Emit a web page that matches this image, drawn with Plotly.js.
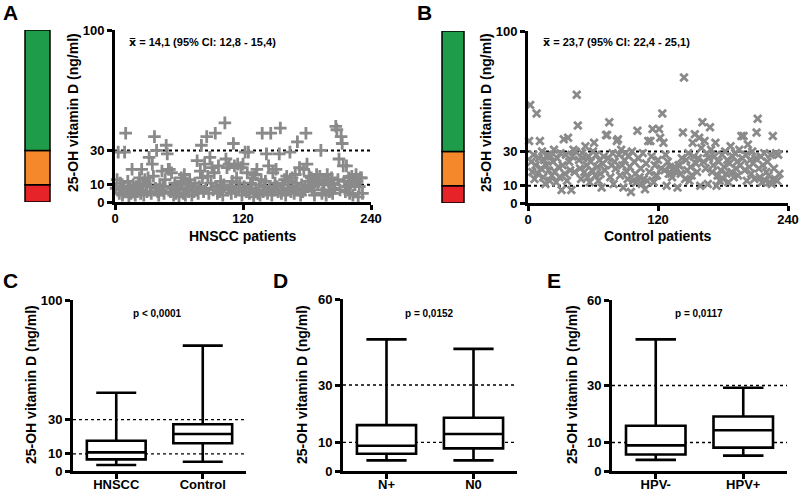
<!DOCTYPE html>
<html><head><meta charset="utf-8">
<script src="https://cdn.plot.ly/plotly-3.0.1.min.js"></script>
<style>html,body{margin:0;padding:0;background:#fff}</style>
</head><body><div id="chart" style="width:800px;height:494px"></div>
<script>
// ---- Data ----
const hnsccValues = [
 8,13,29,5,11,7,4,9,29,40,
 6,12,3,8,5,19,10,7,4,9,
 6,11,14,5,19,9,4,13,10,6,
 14,26,9,5,22,15,38,8,30,6,
 4,10,7,18,9,5,13,33,28,19,
 19,6,17,8,4,11,5,9,7,3,
 8,14,12,5,16,4,11,10,6,13,
 9,4,8,6,11,7,24,5,9,18,
 33,14,6,22,8,38,15,5,26,11,
 20,7,17,40,9,5,21,6,12,8,
 4,10,46,25,20,7,22,9,5,12,
 34,21,6,14,22,8,11,20,4,22,
 9,29,6,17,29,5,11,8,14,3,
 16,7,19,5,10,4,13,40,6,9,
 12,28,5,21,8,40,4,17,7,11,
 19,9,6,28,43,5,10,7,13,4,
 15,8,12,29,6,14,9,5,16,11,
 35,7,20,4,10,6,19,8,40,22,
 12,15,9,14,7,11,4,13,16,10,
 12,15,30,5,11,7,13,4,16,12,
 6,10,14,5,11,8,44,42,13,25,
 7,38,34,21,12,6,21,9,14,5,
 11,15,4,13,10,16,12,3,9,14,
 14,5];
const controlValues = [
 36,57,24,18,28,14,22,52,17,26,
 36,20,30,15,25,11,22,28,19,13,
 27,16,24,31,18,12,26,21,15,29,
 7.5,22,37,17,28,13,38,24,19,7.5,
 27,31,18,30,63,45,25,20,14,29,
 26,18,33,22,15,27,12,24,19,30,
 35,16,28,21,13,25,17,9,23,27,
 19,39.5,39.5,26,47,15,22,29,11,24,
 20,36,37,28,16,31,22,9,25,29,
 18,14,27,21,6.4,30,13,24,17,12,
 42,26,15,20,11,29,14,8,23,13,
 36,18,36,27,43,12,22,16,16,25,
 43,38,20,52,35,19,28,10,24,17,
 21,17,15,20,19,18,20,9,22,22,
 17,26,41,73,14,25,19,29,13,21,
 16,35,27,40,23,18,26,38,10,32,
 47,24,36,20,29,11,26,44,31,18,
 22,27,35,10,16,24,13,19,28,14,
 21,30,17,25,12,23,33,18,27,15,
 29,20,24,16,31,22,39,26,39,19,
 28,13,34,21,25,17,30,23,14,26,
 41,49,20,15,27,12,22,29,13,18,
 24,16,12,28,11,39,20,14,29,13,
 28,17];

const catsC = ['HNSCC','Control'];
const lowC = [3.5, 5.4], q1C = [6.8, 16.2], medC = [10.9, 21.6], q3C = [17.7, 27.3], highC = [45.8, 73.3];
const catsD = ['N+','N0'];
const lowD = [3.7, 3.7], q1D = [6.0, 7.9], medD = [8.8, 12.9], q3D = [16.0, 18.6], highD = [45.9, 42.6];
const catsE = ['HPV-','HPV+'];
const lowE = [3.9, 5.4], q1E = [5.8, 8.2], medE = [9.0, 14.3], q3E = [15.9, 19.1], highE = [46.2, 29.2];

const thresholds = [10, 30];
const bandEdges = [0, 10, 30, 100];
const ticks100 = [0, 10, 30, 100];
const ticks60 = [0, 10, 30, 60];
const ticksPatients = [0, 120, 240];
const meanStatsA = '14,1 (95% CI: 12,8 - 15,4)';
const meanStatsB = '23,7 (95% CI: 22,4 - 25,1)';
const pC = 'p < 0,0001', pD = 'p = 0,0152', pE = 'p = 0,0117';
const yTitle = '25-OH vitamin D (ng/ml)';
const xTitleA = 'HNSCC patients', xTitleB = 'Control patients';

// ---- Styles ----
const FONT = 'Liberation Sans, Arial, sans-serif';
const gray = '#8a8a8a';
const bandColors = ['#e52329', '#f4882b', '#1e9c4a'];
const B = s => '<b>' + s + '</b>';

function baseAxis(extra) {
  return Object.assign({
    showline: true, linecolor: '#000', linewidth: 3,
    ticks: 'outside', ticklen: 5, tickwidth: 3, tickcolor: '#000',
    showgrid: false, zeroline: false, tickmode: 'array',
    tickfont: {family: FONT, size: 13, color: '#000', weight: 'bold'}
  }, extra);
}
function tickArr(vals) { return {tickvals: vals, ticktext: vals.map(v => B(v))}; }

const H = 494, W = 800;
const px = v => v / W, py = v => 1 - v / H;

const idxA = hnsccValues.map((_, i) => i + 1);
const idxB = controlValues.map((_, i) => i + 1);

const traces = [
  {type: 'scatter', mode: 'markers', x: idxA, y: hnsccValues, xaxis: 'x', yaxis: 'y', cliponaxis: false,
   marker: {symbol: 'cross-thin', size: 9, color: gray, line: {color: gray, width: 2.8}}},
  {type: 'scatter', mode: 'markers', x: idxB, y: controlValues, xaxis: 'x2', yaxis: 'y2', cliponaxis: false,
   marker: {symbol: 'x-thin', size: 7.5, color: gray, line: {color: gray, width: 2.8}}},
];
function boxTrace(cats, lo, q1, med, q3, hi, xa, ya) {
  return {type: 'box', x: cats, lowerfence: lo, q1: q1, median: med, q3: q3, upperfence: hi,
    xaxis: xa, yaxis: ya, boxpoints: false, width: 0.68, whiskerwidth: 0.68,
    fillcolor: '#fff', line: {color: '#000', width: 2.6}};
}
traces.push(boxTrace(catsC, lowC, q1C, medC, q3C, highC, 'x3', 'y3'));
traces.push(boxTrace(catsD, lowD, q1D, medD, q3D, highD, 'x4', 'y4'));
traces.push(boxTrace(catsE, lowE, q1E, medE, q3E, highE, 'x5', 'y5'));

const shapes = [];
[['y', 25, 50], ['y2', 442, 464]].forEach(([yr, x0, x1]) => {
  for (let i = 0; i < bandEdges.length - 1; i++) {
    shapes.push({type: 'rect', xref: 'paper', yref: yr, x0: px(x0), x1: px(x1),
      y0: bandEdges[i], y1: bandEdges[i + 1], fillcolor: bandColors[i], line: {color: '#000', width: 1.5}, layer: 'above'});
  }
});
[['x', 'y', 2], ['x2', 'y2', 2], ['x3', 'y3', 1.3], ['x4', 'y4', 1.3], ['x5', 'y5', 1.3]].forEach(([xa, ya, w]) => {
  thresholds.forEach(t => shapes.push({type: 'line', xref: xa + ' domain', yref: ya, x0: 0, x1: 1, y0: t, y1: t,
    line: {color: '#000', width: w, dash: 'dot'}, layer: 'below'}));
});

function ann(t, x, y, size, xanchor, extra) {
  return Object.assign({text: B(t), xref: 'paper', yref: 'paper', x: px(x), y: py(y), xanchor: xanchor, yanchor: 'middle',
    showarrow: false, font: {family: FONT, size: size, color: '#000', weight: 'bold'}}, extra || {});
}
const xbar = '<span style="font-family:DejaVu Sans">x\u0305</span>';
const annotations = [
  ann('A', 1, 12, 21, 'left'), ann('B', 415, 12, 21, 'left'),
  ann('C', 1, 280, 21, 'left'), ann('D', 271, 280, 21, 'left'), ann('E', 545, 280, 21, 'left'),
  ann(xbar + ' = ' + meanStatsA, 127, 43, 11, 'left'), ann(xbar + ' = ' + meanStatsB, 541, 43, 11, 'left'),
  ann(pC, 157, 313, 10, 'center'), ann(pD, 429, 313, 10, 'center'), ann(pE, 699, 313, 10, 'center'),
  ann(yTitle, 73, 113, 14, 'center', {textangle: -90}),
  ann(yTitle, 486, 113, 14, 'center', {textangle: -90}),
  ann(yTitle, 31, 385, 14, 'center', {textangle: -90}),
  ann(yTitle, 302, 385, 14, 'center', {textangle: -90}),
  ann(yTitle, 572, 385, 14, 'center', {textangle: -90}),
  ann(xTitleA, 243, 236, 14, 'center'), ann(xTitleB, 658, 236, 14, 'center')
];

const layout = {
  width: W, height: H, margin: {l: 0, r: 0, t: 0, b: 0}, paper_bgcolor: '#fff', plot_bgcolor: 'rgba(0,0,0,0)',
  showlegend: false, hovermode: false,
  xaxis: baseAxis(Object.assign({domain: [px(115), px(371)], range: [0, 240], anchor: 'y', ticklabelstandoff: -3}, tickArr(ticksPatients))),
  yaxis: baseAxis(Object.assign({domain: [py(202), py(30)], range: [0, 100], anchor: 'x'}, tickArr(ticks100))),
  xaxis2: baseAxis(Object.assign({domain: [px(528), px(788)], range: [0, 240], anchor: 'y2', ticklabelstandoff: -3}, tickArr(ticksPatients))),
  yaxis2: baseAxis(Object.assign({domain: [py(203), py(31)], range: [0, 100], anchor: 'x2'}, tickArr(ticks100))),
  xaxis3: baseAxis(Object.assign({domain: [px(73), px(246)], type: 'category', range: [-0.5, 1.5], anchor: 'y3', ticklabelstandoff: -6}, tickArr(catsC))),
  yaxis3: baseAxis(Object.assign({domain: [py(471), py(300)], range: [0, 100], anchor: 'x3'}, tickArr(ticks100))),
  xaxis4: baseAxis(Object.assign({domain: [px(343), px(517)], type: 'category', range: [-0.5, 1.5], anchor: 'y4', ticklabelstandoff: -6}, tickArr(catsD))),
  yaxis4: baseAxis(Object.assign({domain: [py(471), py(299)], range: [0, 60], anchor: 'x4'}, tickArr(ticks60))),
  xaxis5: baseAxis(Object.assign({domain: [px(612), px(787)], type: 'category', range: [-0.5, 1.5], anchor: 'y5', ticklabelstandoff: -6}, tickArr(catsE))),
  yaxis5: baseAxis(Object.assign({domain: [py(471), py(300)], range: [0, 60], anchor: 'x5'}, tickArr(ticks60))),
  shapes: shapes, annotations: annotations
};
Plotly.newPlot('chart', traces, layout, {displayModeBar: false, staticPlot: true});
</script></body></html>
